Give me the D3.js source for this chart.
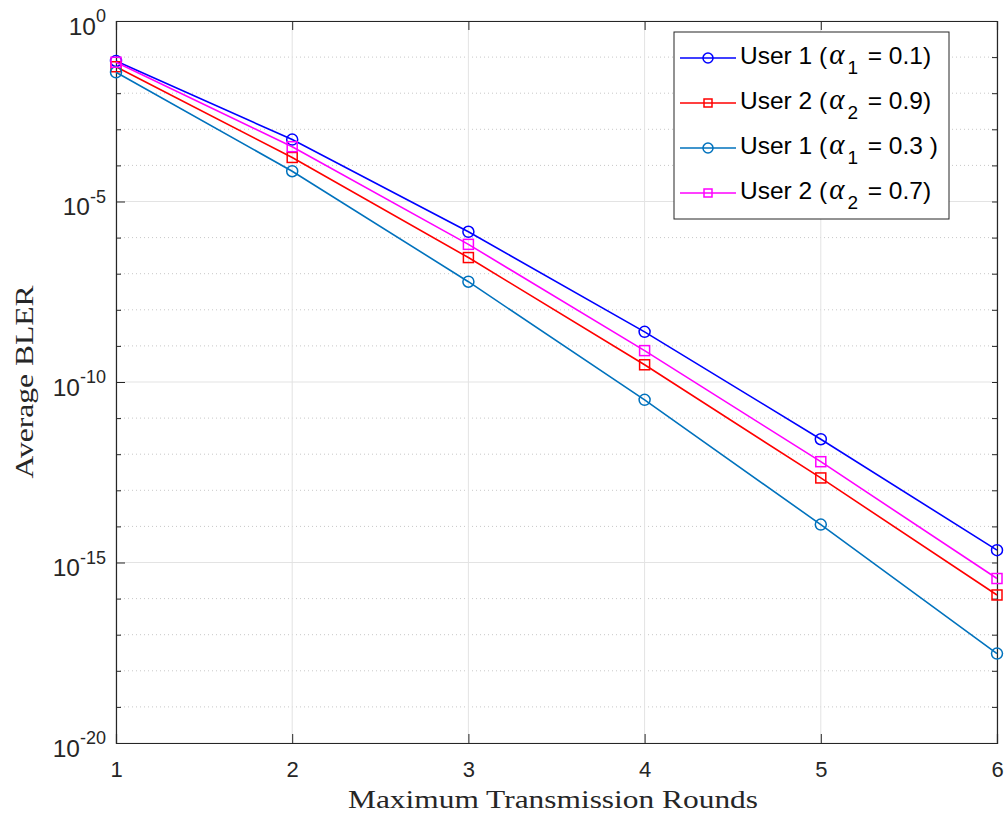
<!DOCTYPE html>
<html>
<head>
<meta charset="utf-8">
<script src="https://cdn.jsdelivr.net/npm/d3@7"></script>
<style>
  body { margin: 0; background: #fff; }
  svg { display: block; }
</style>
</head>
<body>
<div id="chart"></div>
<script>
// data
const rounds = [1, 2, 3, 4, 5, 6];
const user1a01 = [7.8e-2, 5.2e-4, 1.45e-6, 2.45e-9, 2.6e-12, 2.2e-15];
const user2a09 = [5.4e-2, 1.66e-4, 2.8e-7, 3.0e-10, 2.2e-13, 1.26e-16];
const user1a03 = [3.8e-2, 6.9e-5, 6.0e-8, 3.2e-11, 1.12e-14, 3.0e-18];
const user2a07 = [7.2e-2, 3.3e-4, 6.5e-7, 7.4e-10, 6.2e-13, 3.6e-16];
const yMajorExp = [0, -5, -10, -15, -20];
const yMinorExp = d3.range(0, -21, -1);

const series = [
  { user: 'User 1', sub: '1', val: '0.1)', values: user1a01, color: '#0000ff', marker: 'circle' },
  { user: 'User 2', sub: '2', val: '0.9)', values: user2a09, color: '#ff0000', marker: 'square' },
  { user: 'User 1', sub: '1', val: '0.3 )', values: user1a03, color: '#0072bd', marker: 'circle' },
  { user: 'User 2', sub: '2', val: '0.7)', values: user2a07, color: '#ff00ff', marker: 'square' }
];

let width = 1005,
    height = 815,
    margin = { top: 21, right: 8, bottom: 72, left: 116 };

let innerW = width - margin.left - margin.right,
    innerH = height - margin.top - margin.bottom;

const sansFont = '"Liberation Sans", Arial, Helvetica, sans-serif';
const serifFont = '"Liberation Serif", "DejaVu Serif", "Times New Roman", serif';
const axisColor = '#262626';

let x = d3.scaleLinear().domain([1, 6]).range([0, innerW]);
let y = d3.scaleLog().domain([1e-20, 1]).range([innerH, 0]);

const svg = d3.select('#chart')
  .append('svg')
    .attr('width', width)
    .attr('height', height)
    .style('background', '#fff');

const g = svg.append('g')
  .attr('transform', `translate(${margin.left},${margin.top})`);

// minor grid (dotted, every decade)
g.append('g')
  .selectAll('line')
  .data(yMinorExp.filter(e => e % 5 !== 0))
  .enter().append('line')
    .attr('x1', 0).attr('x2', innerW)
    .attr('y1', e => y(Math.pow(10, e)))
    .attr('y2', e => y(Math.pow(10, e)))
    .attr('stroke', '#c8c8c8')
    .attr('stroke-width', 1)
    .attr('stroke-dasharray', '1,3');

// major grid
g.append('g')
  .selectAll('line')
  .data(yMajorExp)
  .enter().append('line')
    .attr('x1', 0).attr('x2', innerW)
    .attr('y1', e => y(Math.pow(10, e)))
    .attr('y2', e => y(Math.pow(10, e)))
    .attr('stroke', '#e3e3e3')
    .attr('stroke-width', 1);

g.append('g')
  .selectAll('line')
  .data(rounds)
  .enter().append('line')
    .attr('x1', d => x(d)).attr('x2', d => x(d))
    .attr('y1', 0).attr('y2', innerH)
    .attr('stroke', '#e3e3e3')
    .attr('stroke-width', 1);

// axes (ticks inside, box on)
const xAxis = d3.axisBottom(x).tickValues(rounds).tickSize(-9).tickPadding(18).tickFormat(d3.format('d'));
const xAxisTop = d3.axisTop(x).tickValues(rounds).tickSize(-9).tickFormat('');
const yAxis = d3.axisLeft(y).tickValues(yMinorExp.map(e => Math.pow(10, e))).tickSize(-5).tickFormat('');
const yAxisRight = d3.axisRight(y).tickValues(yMinorExp.map(e => Math.pow(10, e))).tickSize(-5).tickFormat('');

const gx = g.append('g').attr('transform', `translate(0,${innerH})`).call(xAxis);
g.append('g').call(xAxisTop);
const gy = g.append('g').call(yAxis);
g.append('g').attr('transform', `translate(${innerW},0)`).call(yAxisRight);

// longer ticks for major decades
gy.selectAll('.tick line')
  .attr('x2', (d) => Math.abs(Math.log10(d)) % 5 === 0 ? 9 : 5);

g.selectAll('.domain').attr('stroke', axisColor).attr('stroke-width', 1.2);
g.selectAll('.tick line').attr('stroke', axisColor);
gx.selectAll('.tick text')
  .attr('font-family', sansFont)
  .attr('font-size', 22)
  .attr('fill', axisColor);

// y tick labels with superscripts
const yLab = g.append('g')
  .selectAll('text')
  .data(yMajorExp)
  .enter().append('text')
    .attr('x', -10)
    .attr('y', e => y(Math.pow(10, e)) + 13.5)
    .attr('text-anchor', 'end')
    .attr('font-family', sansFont)
    .attr('font-size', 24.5)
    .attr('fill', axisColor);
yLab.append('tspan').text('10');
yLab.append('tspan')
  .attr('dy', -12.5)
  .attr('font-size', 18)
  .text(e => e === 0 ? '0' : String(e));

// lines and markers
const line = d3.line()
  .x((d, i) => x(rounds[i]))
  .y(d => y(d));

series.forEach(s => {
  g.append('path')
    .datum(s.values)
    .attr('fill', 'none')
    .attr('stroke', s.color)
    .attr('stroke-width', 1.6)
    .attr('d', line);

  if (s.marker === 'circle') {
    g.append('g').selectAll('circle')
      .data(s.values)
      .enter().append('circle')
        .attr('cx', (d, i) => x(rounds[i]))
        .attr('cy', d => y(d))
        .attr('r', 5.5)
        .attr('fill', 'none')
        .attr('stroke', s.color)
        .attr('stroke-width', 1.5);
  } else {
    g.append('g').selectAll('rect')
      .data(s.values)
      .enter().append('rect')
        .attr('x', (d, i) => x(rounds[i]) - 5)
        .attr('y', d => y(d) - 5)
        .attr('width', 10)
        .attr('height', 10)
        .attr('fill', 'none')
        .attr('stroke', s.color)
        .attr('stroke-width', 1.5);
  }
});

// axis titles
svg.append('text')
  .attr('x', 553)
  .attr('y', 808)
  .attr('text-anchor', 'middle')
  .attr('font-family', serifFont)
  .attr('font-size', 26)
  .attr('textLength', 410)
  .attr('lengthAdjust', 'spacingAndGlyphs')
  .attr('fill', axisColor)
  .text('Maximum Transmission Rounds');

svg.append('text')
  .attr('transform', `translate(33,${margin.top + innerH / 2}) rotate(-90)`)
  .attr('text-anchor', 'middle')
  .attr('font-family', serifFont)
  .attr('font-size', 26)
  .attr('textLength', 193)
  .attr('lengthAdjust', 'spacingAndGlyphs')
  .attr('fill', axisColor)
  .text('Average BLER');

// legend
const legend = svg.append('g').attr('transform', 'translate(674,32)');
legend.append('rect')
  .attr('width', 275)
  .attr('height', 187)
  .attr('fill', '#fff')
  .attr('stroke', axisColor)
  .attr('stroke-width', 1);

const item = legend.selectAll('g.item')
  .data(series)
  .enter().append('g')
    .attr('class', 'item')
    .attr('transform', (d, i) => `translate(0,${26 + i * 45})`);

item.append('line')
  .attr('x1', 6).attr('x2', 62)
  .attr('stroke', d => d.color)
  .attr('stroke-width', 1.6);
item.filter(d => d.marker === 'circle').append('circle')
  .attr('cx', 34).attr('r', 5)
  .attr('fill', 'none')
  .attr('stroke', d => d.color)
  .attr('stroke-width', 1.5);
item.filter(d => d.marker === 'square').append('rect')
  .attr('x', 30).attr('y', -4).attr('width', 8).attr('height', 8)
  .attr('fill', 'none')
  .attr('stroke', d => d.color)
  .attr('stroke-width', 1.5);

const lt = item.append('text')
  .attr('x', 66)
  .attr('y', 6)
  .attr('font-family', sansFont)
  .attr('font-size', 24.5)
  .attr('fill', '#000');
lt.append('tspan').text(d => d.user + ' (');
lt.append('tspan')
  .attr('font-family', serifFont)
  .attr('font-style', 'italic')
  .attr('font-size', 29)
  .attr('dx', 2)
  .text('α');
lt.append('tspan')
  .attr('dy', 10)
  .attr('dx', 3)
  .attr('font-size', 19)
  .text(d => d.sub);
lt.append('tspan')
  .attr('dy', -10)
  .attr('dx', 3)
  .text(d => ' = ' + d.val);
</script>
</body>
</html>
